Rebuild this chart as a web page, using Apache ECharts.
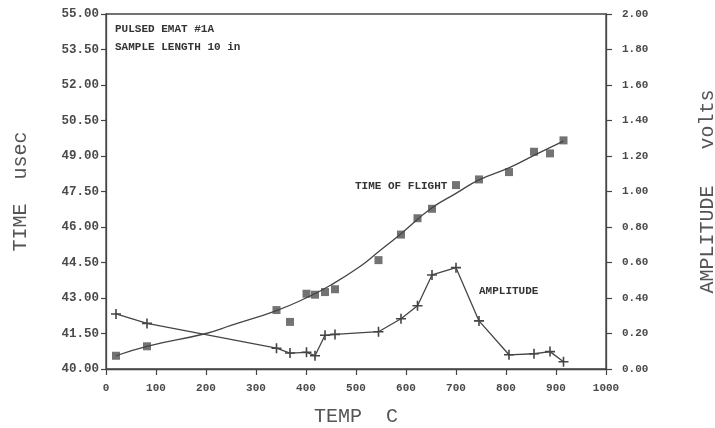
<!DOCTYPE html>
<html>
<head>
<meta charset="utf-8">
<script src="https://cdn.jsdelivr.net/npm/echarts@6/dist/echarts.min.js"></script>
<style>
  html, body { margin: 0; padding: 0; background: #fff; }
  #main { width: 715px; height: 428px; }
</style>
</head>
<body>
<div id="main"></div>
<script>
// temperatures (C) of the measurements
const temps = [20, 82, 341, 368, 401, 418, 438, 458, 545, 590, 623, 652, 700, 746, 806, 856, 888, 915]
// time of flight, usec (squares)
const tof = [40.56, 40.96, 42.49, 41.99, 43.18, 43.14, 43.25, 43.37, 44.60, 45.68, 46.37, 46.77, 47.77, 48.01, 48.32, 49.18, 49.11, 49.66]
// amplitude, volts (crosses)
const amp = [0.31, 0.257, 0.117, 0.09, 0.094, 0.075, 0.19, 0.195, 0.21, 0.283, 0.356, 0.53, 0.571, 0.271, 0.08, 0.086, 0.098, 0.041]
// fitted time of flight curve
const fitTemps = [20, 82, 200, 250, 341, 400, 450, 508, 545, 590, 650, 700, 745, 808, 860, 915]
const fitTof = [40.56, 40.96, 41.5, 41.84, 42.47, 43.0, 43.55, 44.33, 44.95, 45.72, 46.78, 47.42, 47.98, 48.52, 49.07, 49.63]

const ink = '#454545'
const mono = 'Liberation Mono'
const plus = 'path://M0,4.2H10V5.8H0ZM4.2,0H5.8V10H4.2Z'

const chart = echarts.init(document.getElementById('main'), null, { renderer: 'canvas' })

const zip = (xs, ys) => xs.map((x, i) => [x, ys[i]])

chart.setOption({
  animation: false,
  backgroundColor: '#fff',
  grid: {
    left: 106, right: 109, top: 14, bottom: 59,
    containLabel: false, outerBoundsMode: 'none',
    show: true, borderColor: ink, borderWidth: 1.3, backgroundColor: 'transparent'
  },
  xAxis: {
    type: 'value', min: 0, max: 1000, interval: 100,
    name: 'TEMP  C', nameLocation: 'middle', nameGap: 38,
    nameTextStyle: { fontFamily: mono, fontSize: 20, color: '#555' },
    axisLine: { lineStyle: { color: ink, width: 1.3 } },
    axisTick: { show: true, length: 6, lineStyle: { color: ink, width: 1.2 } },
    axisLabel: { margin: 14, fontFamily: mono, fontSize: 11, fontWeight: 'bold', color: '#4a4a4a', formatter: v => String(v) },
    splitLine: { show: false }
  },
  yAxis: [
    {
      type: 'value', min: 40, max: 55, interval: 1.5,
      name: 'TIME  usec', nameLocation: 'middle', nameRotate: 90, nameGap: 75,
      nameTextStyle: { fontFamily: mono, fontSize: 20, color: '#555' },
      axisLine: { show: true, lineStyle: { color: ink, width: 1.3 } },
      axisTick: { show: true, length: 5, lineStyle: { color: ink, width: 1.2 } },
      axisLabel: {
        margin: 7, fontFamily: mono, fontSize: 12.5, fontWeight: 'bold', color: '#4a4a4a',
        formatter: v => v.toFixed(2)
      },
      splitLine: { show: false }
    },
    {
      type: 'value', min: 0, max: 2, interval: 0.2, position: 'right',
      name: 'AMPLITUDE   volts', nameLocation: 'middle', nameRotate: 90, nameGap: 92,
      nameTextStyle: { fontFamily: mono, fontSize: 20, color: '#555' },
      axisLine: { show: true, lineStyle: { color: ink, width: 1.3 } },
      axisTick: { show: true, length: 6, lineStyle: { color: ink, width: 1.2 } },
      axisLabel: {
        margin: 16, fontFamily: mono, fontSize: 11, fontWeight: 'bold', color: '#4a4a4a',
        formatter: v => v.toFixed(2)
      },
      splitLine: { show: false }
    }
  ],
  graphic: [
    { type: 'text', left: 115, top: 24, style: { text: 'PULSED EMAT #1A', font: 'bold 11px "Liberation Mono"', fill: '#333' } },
    { type: 'text', left: 115, top: 42, style: { text: 'SAMPLE LENGTH 10 in', font: 'bold 11px "Liberation Mono"', fill: '#333' } },
    { type: 'text', left: 355, top: 181, style: { text: 'TIME OF FLIGHT', font: 'bold 11px "Liberation Mono"', fill: '#333' } },
    { type: 'text', left: 479, top: 286, style: { text: 'AMPLITUDE', font: 'bold 11px "Liberation Mono"', fill: '#333' } }
  ],
  series: [
    {
      name: 'fit', type: 'line', yAxisIndex: 0, smooth: 0.5, showSymbol: false,
      data: zip(fitTemps, fitTof),
      lineStyle: { color: ink, width: 1.3 }
    },
    {
      name: 'TIME OF FLIGHT', type: 'scatter', yAxisIndex: 0,
      symbol: 'rect', symbolSize: 8,
      data: zip(temps, tof),
      itemStyle: { color: '#505050' }
    },
    {
      name: 'AMPLITUDE', type: 'line', yAxisIndex: 1,
      symbol: plus, symbolSize: 10, showAllSymbol: true,
      data: zip(temps, amp),
      lineStyle: { color: ink, width: 1.3 },
      itemStyle: { color: ink }
    }
  ]
})
</script>
</body>
</html>
